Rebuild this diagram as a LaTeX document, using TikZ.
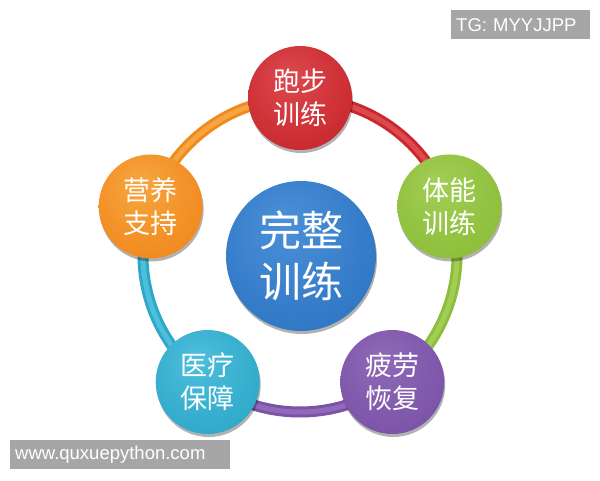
\documentclass[tikz,border=0pt]{standalone}
\usepackage{fontspec}
\setmainfont{Liberation Sans}
\newfontfamily\cjk{Noto Sans CJK SC}
\usetikzlibrary{shadows}
% colours
\definecolor{rL}{HTML}{DC4A4E}\definecolor{rB}{HTML}{C9282E}\definecolor{rD}{HTML}{9E1C21}
\definecolor{gL}{HTML}{A2CE55}\definecolor{gB}{HTML}{8DBE3A}\definecolor{gD}{HTML}{6A9428}
\definecolor{pL}{HTML}{906AB8}\definecolor{pB}{HTML}{7B52A8}\definecolor{pD}{HTML}{5A3A86}
\definecolor{cL}{HTML}{4DBFDC}\definecolor{cB}{HTML}{2FA8C8}\definecolor{cD}{HTML}{1D83A2}
\definecolor{oL}{HTML}{F7A63F}\definecolor{oB}{HTML}{F0891E}\definecolor{oD}{HTML}{C96A10}
\definecolor{bL}{HTML}{4B90D8}\definecolor{bB}{HTML}{2F76C4}\definecolor{bD}{HTML}{1F5CA3}
\definecolor{wmgray}{HTML}{A6A6A6}
\pgfdeclareradialshading{shR}{\pgfpoint{-6bp}{12bp}}{color(0bp)=(rL); color(32bp)=(rB); color(46bp)=(rB); color(50bp)=(rD)}
\pgfdeclareradialshading{shG}{\pgfpoint{-6bp}{12bp}}{color(0bp)=(gL); color(32bp)=(gB); color(46bp)=(gB); color(50bp)=(gD)}
\pgfdeclareradialshading{shP}{\pgfpoint{-6bp}{12bp}}{color(0bp)=(pL); color(32bp)=(pB); color(46bp)=(pB); color(50bp)=(pD)}
\pgfdeclareradialshading{shC}{\pgfpoint{-6bp}{12bp}}{color(0bp)=(cL); color(32bp)=(cB); color(46bp)=(cB); color(50bp)=(cD)}
\pgfdeclareradialshading{shO}{\pgfpoint{-6bp}{12bp}}{color(0bp)=(oL); color(32bp)=(oB); color(46bp)=(oB); color(50bp)=(oD)}
\pgfdeclareradialshading{shB}{\pgfpoint{-6bp}{12bp}}{color(0bp)=(bL); color(32bp)=(bB); color(47bp)=(bB); color(50bp)=(bD)}
\tikzset{
  ball/.style={circle, inner sep=0pt, align=center, text=white, shade,
    drop shadow={shadow xshift=1pt, shadow yshift=-3pt, opacity=0.3, fill=black}},
  outer/.style={ball, minimum size=104pt, font=\cjk\fontsize{27}{33}\selectfont},
  inner/.style={ball, minimum size=150pt, font=\cjk\fontsize{42}{51}\selectfont},
  ringarc/.style={line width=3pt, double distance=5pt},
  wm/.style={fill=wmgray, text=white, inner xsep=5pt, inner ysep=0pt, minimum height=29pt, align=left,
    font=\fontsize{18.5}{20}\selectfont}
}
\begin{document}
\begin{tikzpicture}[x=1pt,y=1pt]
\useasboundingbox (0,0) rectangle (600,480);
\fill[white] (0,0) rectangle (600,480);
\coordinate (O) at (300,225);
\coordinate (aR) at ([shift={(90:157)}]O);
\coordinate (aG) at ([shift={(18:157)}]O);
\coordinate (aP) at ([shift={(-54:157)}]O);
\coordinate (aC) at ([shift={(-126:157)}]O);
\coordinate (aO) at ([shift={(162:157)}]O);
% ring
\draw[ringarc, draw=rB, double=rL] (aR) arc[start angle=90, end angle=18, radius=157];
\draw[ringarc, draw=gB, double=gL] (aG) arc[start angle=18, end angle=-54, radius=157];
\draw[ringarc, draw=pB, double=pL] (aP) arc[start angle=-54, end angle=-126, radius=157];
\draw[ringarc, draw=cB, double=cL] (aC) arc[start angle=-126, end angle=-198, radius=157];
\draw[ringarc, draw=oB, double=oL] (aO) arc[start angle=162, end angle=90, radius=157];
% circles
\node[inner, shading=shB] (center) at (301,224) {完整\\训练};
\node[outer, shading=shR] (run) at (aR) {跑步\\训练};
\node[outer, shading=shG] (fit) at (aG) {体能\\训练};
\node[outer, shading=shP] (rec) at (aP) {疲劳\\恢复};
\node[outer, shading=shC] (med) at (aC) {医疗\\保障};
\node[outer, shading=shO] (nut) at (aO) {营养\\支持};
% watermarks
\node[wm, anchor=north west, text width=129pt] (tg) at (451,470) {TG: MYYJJPP};
\node[wm, anchor=south west, text width=210pt] (site) at (10,11) {www.quxuepython.com};
\end{tikzpicture}
\end{document}
